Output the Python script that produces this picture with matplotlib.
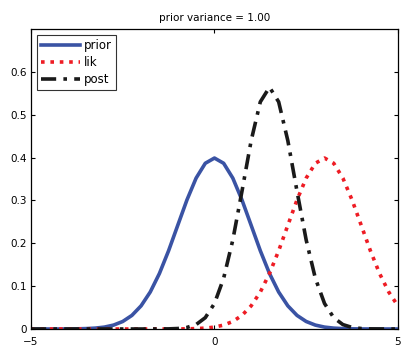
import matplotlib
matplotlib.use("Agg")
import matplotlib.pyplot as plt

x = [-5, -4.75, -4.5, -4.25, -4, -3.75, -3.5, -3.25, -3, -2.75, -2.5, -2.25, -2, -1.75,
     -1.5, -1.25, -1, -0.75, -0.5, -0.25, 0, 0.25, 0.5, 0.75, 1, 1.25, 1.5, 1.75, 2,
     2.25, 2.5, 2.75, 3, 3.25, 3.5, 3.75, 4, 4.25, 4.5, 4.75, 5]

prior = [0, 0, 0, 0, 0.0001, 0.0004, 0.0009, 0.002, 0.0044, 0.0091, 0.0175, 0.0317, 0.054,
         0.0863, 0.1295, 0.1826, 0.242, 0.3011, 0.3521, 0.3867, 0.3989, 0.3867, 0.3521,
         0.3011, 0.242, 0.1826, 0.1295, 0.0863, 0.054, 0.0317, 0.0175, 0.0091, 0.0044,
         0.002, 0.0009, 0.0004, 0.0001, 0, 0, 0, 0]

lik = [0, 0, 0, 0, 0, 0, 0, 0, 0, 0, 0, 0, 0, 0, 0, 0,
       0.0001, 0.0004, 0.0009, 0.002, 0.0044, 0.0091, 0.0175, 0.0317, 0.054, 0.0863,
       0.1295, 0.1826, 0.242, 0.3011, 0.3521, 0.3867, 0.3989, 0.3867, 0.3521, 0.3011,
       0.242, 0.1826, 0.1295, 0.0863, 0.054]

post = [0, 0, 0, 0, 0, 0, 0, 0, 0, 0, 0, 0, 0, 0,
        0.0001, 0.0003, 0.0011, 0.0036, 0.0103, 0.0264, 0.0595, 0.1183, 0.2076, 0.3215,
        0.4394, 0.53, 0.5642, 0.53, 0.4394, 0.3215, 0.2076, 0.1183, 0.0595, 0.0264,
        0.0103, 0.0036, 0.0011, 0.0003, 0.0001, 0, 0]

plt.rcParams['font.family'] = ['DejaVu Sans']
fig = plt.figure(figsize=(4.01, 3.47), dpi=100)
ax = fig.add_axes([0.0773, 0.0519, 0.915, 0.8645])

ax.plot(x, prior, color='#3a53a4', lw=2.6, ls='-', label='prior')
ax.plot(x, lik, color='#ee1c24', lw=2.6, ls=(0, (1, 1.6)), label='lik')
ax.plot(x, post, color='#1a1a1a', lw=2.6, ls=(0, (4.2, 2, 1, 2)), label='post')

ax.set_xlim(-5, 5)
ax.set_ylim(0, 0.7)
ax.set_xticks([-5, 0, 5])
ax.set_yticks([0, 0.1, 0.2, 0.3, 0.4, 0.5, 0.6])
ax.set_yticklabels(['0', '0.1', '0.2', '0.3', '0.4', '0.5', '0.6'])
ax.tick_params(direction='in', top=True, right=True, labelsize=7.5, length=3, width=0.8, pad=3)
ax.tick_params(axis='x', pad=6)
for s in ax.spines.values():
    s.set_linewidth(0.9)
ax.set_title('prior variance = 1.00', fontsize=7.5, pad=6)

leg = ax.legend(loc='upper left', fontsize=8.5, handlelength=3.3, frameon=True, fancybox=False,
                borderpad=0.35, labelspacing=0.35, handletextpad=0.3, borderaxespad=0.5)
leg.get_frame().set_edgecolor('black')
leg.get_frame().set_linewidth(0.8)

fig.savefig('out.png', dpi=100)
